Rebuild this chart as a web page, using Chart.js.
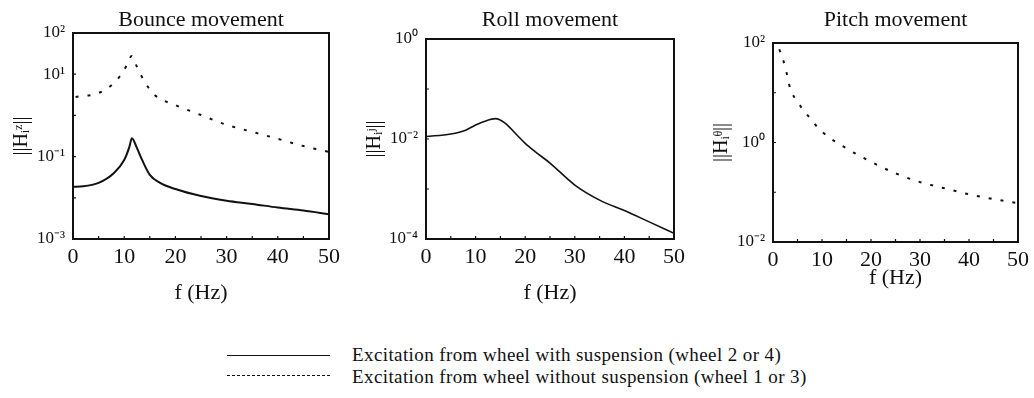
<!DOCTYPE html>
<html><head><meta charset="utf-8">
<script src="https://cdn.jsdelivr.net/npm/chart.js@4"></script>
<style>
html,body{margin:0;padding:0;background:#fff;}
body{width:1034px;height:398px;position:relative;overflow:hidden;font-family:"Liberation Serif","Times New Roman",serif;}
.pane{position:absolute;top:0;}
.leg{position:absolute;font-size:19px;letter-spacing:0.4px;color:#111;white-space:nowrap;line-height:20px;}
.ln{position:absolute;height:0;}
</style></head>
<body>
<div class="pane" style="left:0;width:345px;height:310px"><canvas id="c1" width="345" height="310"></canvas></div>
<div class="pane" style="left:345px;width:345px;height:310px"><canvas id="c2" width="345" height="310"></canvas></div>
<div class="pane" style="left:690px;width:344px;height:300px"><canvas id="c3" width="344" height="300"></canvas></div>
<div class="ln" style="left:227px;top:355px;width:103px;border-top:1.5px solid #111"></div>
<div class="leg" style="left:352px;top:345px">Excitation from wheel with suspension (wheel 2 or 4)</div>
<div class="ln" style="left:227px;top:375px;width:103px;border-top:1.5px dashed #111"></div>
<div class="leg" style="left:352px;top:367px">Excitation from wheel without suspension (wheel 1 or 3)</div>
<script>
// ---- data ----
const bounceFreq = [0, 2, 5, 8, 10, 11, 11.5, 12.5, 13.5, 15, 17, 20, 25, 30, 35, 40, 45, 50];
const bounceWith = [0.0186, 0.019, 0.023, 0.040, 0.083, 0.17, 0.28, 0.16, 0.083, 0.036, 0.023, 0.0163, 0.011, 0.0085, 0.0071, 0.0058, 0.0049, 0.0040];
const bounceFreqNo = [0.5, 5, 8, 10, 11.5, 12.5, 14, 16, 20, 25, 30, 35, 40, 45, 50];
const bounceWithout = [2.8, 3.5, 6.1, 12.6, 27.5, 15, 6.5, 3.1, 1.78, 1.02, 0.59, 0.40, 0.27, 0.18, 0.13];
const rollFreq = [0, 5, 8, 10, 12, 14, 16, 18, 20, 22, 25, 30, 35, 40, 45, 50];
const rollWith = [0.0112, 0.0126, 0.015, 0.019, 0.023, 0.0255, 0.0206, 0.013, 0.0082, 0.0056, 0.0033, 0.0012, 0.0006, 0.00037, 0.00022, 0.00013];
const pitchFreq = [1.3, 2.5, 3.5, 5, 7, 10, 15, 20, 25, 30, 35, 40, 45, 50];
const pitchWithout = [75, 33, 12.3, 6.6, 3.6, 1.65, 0.76, 0.41, 0.24, 0.16, 0.12, 0.091, 0.073, 0.060];
const xTicks = [0, 10, 20, 30, 40, 50];
const xMinor = [5, 10, 15, 20, 25, 30, 35, 40, 45];
const bounceYTicks = [100, 10, 0.1, 0.001];
const bounceYLabels = ['10\u00B2', '10\u00B9', '10\u207B\u00B9', '10\u207B\u00B3'];
const rollYTicks = [1, 0.01, 0.0001];
const rollYLabels = ['10\u2070', '10\u207B\u00B2', '10\u207B\u2074'];
const pitchYTicks = [100, 1, 0.01];
const pitchYLabels = ['10\u00B2', '10\u2070', '10\u207B\u00B2'];
const titles = ['Bounce movement', 'Roll movement', 'Pitch movement'];
const yTitles = ['||H\u1D62\u1DBB||', '||H\u1D62\u02B2||', '||H\u1D62\u1DBF||'];
const xTitle = 'f (Hz)';

const SERIF = "'Liberation Serif','Times New Roman',serif";
const INK = '#111';

const framePlugin = {
  id: 'frame',
  afterDatasetsDraw(chart) {
    const {ctx, chartArea: a, scales} = chart;
    ctx.save();
    ctx.strokeStyle = INK;
    ctx.lineWidth = 2;
    ctx.strokeRect(a.left, a.top, a.right - a.left, a.bottom - a.top);
    ctx.lineWidth = 1.2;
    ctx.beginPath();
    xMinor.forEach(v => {
      const px = scales.x.getPixelForValue(v);
      ctx.moveTo(px, a.bottom); ctx.lineTo(px, a.bottom - 3);
    });
    (chart.options.plugins.frame.yMinor || []).forEach(v => {
      const py = scales.y.getPixelForValue(v);
      ctx.moveTo(a.left, py); ctx.lineTo(a.left + 3, py);
    });
    ctx.stroke();
    ctx.restore();
  }
};

function pts(xs, ys) { return xs.map((x, i) => ({x, y: ys[i]})); }

function makeChart(id, cfg) {
  return new Chart(document.getElementById(id), {
    type: 'line',
    data: { datasets: cfg.datasets },
    plugins: [framePlugin],
    options: {
      responsive: false, animation: false, devicePixelRatio: 1,
      layout: { padding: { left: 0, right: cfg.rightPad, top: 0, bottom: 0 } },
      elements: { point: { radius: 0 } },
      plugins: {
        legend: { display: false }, tooltip: { enabled: false },
        title: { display: false },
        frame: { yMinor: cfg.yMinor }
      },
      scales: {
        top: {
          type: 'linear', position: 'top', min: 0, max: 50, display: true,
          afterFit: s => { s.height = cfg.topHeight; },
          grid: { display: false, drawTicks: false },
          border: { display: false },
          ticks: { display: false },
          title: { display: true, text: cfg.title, color: INK,
            font: { family: SERIF, size: 22 }, padding: { top: 7, bottom: 0 } }
        },
        x: {
          type: 'linear', min: 0, max: 50,
          afterBuildTicks: s => { s.ticks = xTicks.map(v => ({value: v})); },
          afterFit: s => { s.height = cfg.xHeight; },
          grid: { display: false, drawTicks: false },
          border: { display: true, color: INK, width: 2 },
          ticks: { color: INK, padding: 5, maxRotation: 0, autoSkip: false,
            font: { family: SERIF, size: 22 } },
          title: { display: true, text: xTitle, color: INK,
            font: { family: SERIF, size: 22 }, padding: { top: 0, bottom: cfg.xTitlePad } }
        },
        y: {
          type: 'logarithmic', min: cfg.yMin, max: cfg.yMax,
          afterBuildTicks: s => { s.ticks = cfg.yTicks.map(v => ({value: v})); },
          afterFit: s => { s.width = cfg.yWidth; },
          grid: { display: false, drawTicks: false },
          border: { display: true, color: INK, width: 2 },
          ticks: { color: INK, padding: 8, autoSkip: false,
            font: { family: SERIF, size: 17 },
            callback: (v) => { const i = cfg.yTicks.indexOf(v); return i >= 0 ? cfg.yLabels[i] : ''; } },
          title: { display: true, text: cfg.yTitle, color: INK,
            font: { family: SERIF, size: 20 }, padding: { top: cfg.yTitlePad } }
        }
      }
    }
  });
}

const solid = (data) => ({ data, borderColor: INK, borderWidth: 2, fill: false, cubicInterpolationMode: 'monotone' });
const dashed = (data) => ({ data, borderColor: INK, borderWidth: 2, borderDash: [3, 9], fill: false, cubicInterpolationMode: 'monotone' });

makeChart('c1', {
  title: titles[0], yTitle: yTitles[0], topHeight: 33,
  rightPad: 14, xHeight: 71, yWidth: 73, xTitlePad: 4, yTitlePad: 10,
  yMin: 0.001, yMax: 100, yTicks: bounceYTicks, yLabels: bounceYLabels,
  yMinor: [10, 1, 0.1, 0.01],
  datasets: [solid(pts(bounceFreq, bounceWith)), dashed(pts(bounceFreqNo, bounceWithout))]
});
makeChart('c2', {
  title: titles[1], yTitle: yTitles[1], topHeight: 39,
  rightPad: 10, xHeight: 71, yWidth: 81, xTitlePad: 4, yTitlePad: 18,
  yMin: 0.0001, yMax: 1, yTicks: rollYTicks, yLabels: rollYLabels,
  yMinor: [0.1, 0.01, 0.001],
  datasets: [Object.assign(solid(pts(rollFreq, rollWith)), {borderWidth: 1.6})]
});
makeChart('c3', {
  title: titles[2], yTitle: yTitles[2], topHeight: 43,
  rightPad: 11, xHeight: 58, yWidth: 83, xTitlePad: 9, yTitlePad: 20,
  yMin: 0.01, yMax: 100, yTicks: pitchYTicks, yLabels: pitchYLabels,
  yMinor: [10, 1, 0.1],
  datasets: [dashed(pts(pitchFreq, pitchWithout))]
});
</script>
</body></html>
